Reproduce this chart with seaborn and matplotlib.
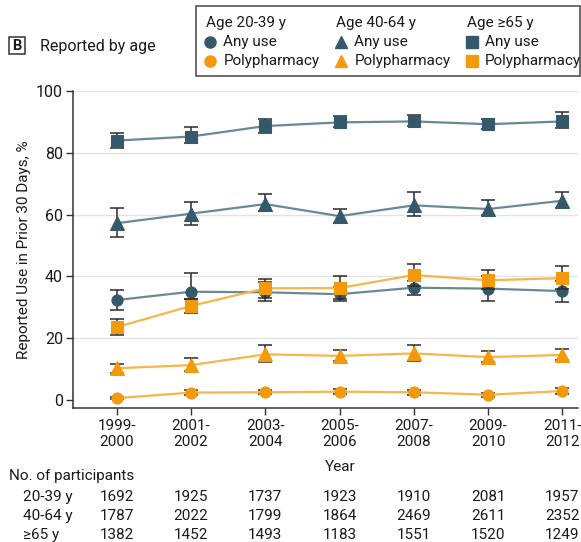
import matplotlib
matplotlib.use("Agg")
import matplotlib.pyplot as plt
import matplotlib.transforms as mtransforms
from matplotlib.patches import Rectangle
from matplotlib.lines import Line2D
import numpy as np
import pandas as pd
import seaborn as sns

sns.set_theme(style="white")
plt.rcParams["font.family"] = ["Roboto", "DejaVu Sans"]

periods = ["1999-\n2000", "2001-\n2002", "2003-\n2004", "2005-\n2006",
           "2007-\n2008", "2009-\n2010", "2011-\n2012"]

# Reported use (%) with 95% CI bounds
any_20_39 = [32.3, 35.0, 34.8, 34.2, 36.3, 36.0, 35.2]
any_20_39_lo = [29.1, 32.5, 32.0, 32.1, 34.0, 32.1, 31.8]
any_20_39_hi = [35.5, 41.1, 38.0, 36.5, 38.5, 40.0, 38.5]
poly_20_39 = [0.5, 2.3, 2.4, 2.6, 2.4, 1.6, 2.8]
poly_20_39_lo = [0.1, 1.6, 1.7, 1.8, 1.6, 1.0, 1.9]
poly_20_39_hi = [0.9, 3.0, 3.1, 3.4, 3.2, 2.2, 3.7]

any_40_64 = [57.2, 60.3, 63.4, 59.5, 63.0, 61.8, 64.5]
any_40_64_lo = [52.6, 56.5, 61.1, 57.4, 59.5, 59.9, 62.2]
any_40_64_hi = [62.2, 64.2, 66.7, 61.8, 67.2, 64.6, 67.2]
poly_40_64 = [10.2, 11.2, 14.7, 14.2, 15.0, 13.8, 14.5]
poly_40_64_lo = [8.8, 9.3, 12.1, 12.5, 12.5, 12.2, 12.8]
poly_40_64_hi = [11.7, 13.6, 17.8, 16.0, 17.8, 15.7, 16.4]

any_65 = [84.0, 85.3, 88.7, 89.9, 90.2, 89.3, 90.2]
any_65_lo = [81.7, 83.3, 86.5, 88.4, 88.6, 87.7, 88.0]
any_65_hi = [86.5, 88.3, 91.0, 92.0, 92.3, 90.9, 93.2]
poly_65 = [23.5, 30.4, 36.1, 36.2, 40.4, 38.7, 39.4]
poly_65_lo = [21.0, 28.0, 33.0, 32.5, 37.0, 36.0, 36.0]
poly_65_hi = [26.1, 32.5, 39.2, 40.2, 44.1, 42.0, 43.2]

# Number of participants per survey cycle
n_20_39 = [1692, 1925, 1737, 1923, 1910, 2081, 1957]
n_40_64 = [1787, 2022, 1799, 1864, 2469, 2611, 2352]
n_65 = [1382, 1452, 1493, 1183, 1551, 1520, 1249]

DARK = "#35596b"
DARK_LINE = "#6a8896"
ORANGE = "#f39a0c"
ORANGE_LINE = "#f7b54a"
ERR = "#2b2b2b"
TEXT = "#1a1a1a"
FS = 11

W, H = 581, 542
fig = plt.figure(figsize=(W / 100, H / 100), dpi=100)
ax = fig.add_axes([72.7 / W, (H - 407.7) / H, (578 - 72.7) / W, (407.7 - 91.2) / H])

x = np.arange(len(periods))

series = [
    (any_20_39, any_20_39_lo, any_20_39_hi, "o", DARK, DARK_LINE, 8),
    (any_40_64, any_40_64_lo, any_40_64_hi, "^", DARK, DARK_LINE, 9.5),
    (any_65, any_65_lo, any_65_hi, "s", DARK, DARK_LINE, 8),
    (poly_20_39, poly_20_39_lo, poly_20_39_hi, "o", ORANGE, ORANGE_LINE, 8),
    (poly_40_64, poly_40_64_lo, poly_40_64_hi, "^", ORANGE, ORANGE_LINE, 9.5),
    (poly_65, poly_65_lo, poly_65_hi, "s", ORANGE, ORANGE_LINE, 8),
]

for k, (vals, lo, hi, mk, col, lcol, ms) in enumerate(series):
    vals = np.asarray(vals)
    yerr = np.vstack([vals - np.asarray(lo), np.asarray(hi) - vals])
    ax.errorbar(x, vals, yerr=yerr, fmt="none", ecolor=ERR, elinewidth=1.1,
                capsize=4.7, capthick=1.1, zorder=2 + 2 * k)
    df = pd.DataFrame({"x": x, "y": vals})
    sns.lineplot(data=df, x="x", y="y", ax=ax, color=lcol, linewidth=1.6,
                 marker=mk, markersize=ms, markerfacecolor=col,
                 markeredgecolor=col, markeredgewidth=0.8, zorder=3 + 2 * k)

ax.set_xlim(-0.592, 6.21)
ax.set_ylim(-2.6, 100)
ax.set_yticks([0, 20, 40, 60, 80, 100])
ax.set_xticks(x)
ax.set_xticklabels(periods, fontsize=FS, color=TEXT, linespacing=1.2)
ax.tick_params(axis="y", labelsize=FS + 0.5, labelcolor=TEXT, length=5, width=1,
               color="#333333", direction="out", left=True, pad=2)
ax.tick_params(axis="x", length=5, width=1, color="#333333", direction="out",
               bottom=True, pad=3)
for yv in [20, 40, 60, 80, 100]:
    ax.axhline(yv, color="#e3e3e3", linewidth=1.0, zorder=0)
ax.grid(False)
for side in ["top", "right"]:
    ax.spines[side].set_visible(False)
for side in ["left", "bottom"]:
    ax.spines[side].set_color("#333333")
    ax.spines[side].set_linewidth(1.1)
ax.set_xlabel("")
ax.set_ylabel("Reported Use in Prior 30 Days, %", fontsize=FS, color=TEXT)
ax.yaxis.set_label_coords((31 - 72.7) / (578 - 72.7), 0.5)

# x-axis title
fig.text(340 / W, 1 - 467 / H, "Year", fontsize=FS, color=TEXT,
         ha="center", va="center")

# Participants table
fig.text(9 / W, 1 - 476 / H, "No. of participants", fontsize=FS,
         color=TEXT, ha="left", va="center")
trans = mtransforms.blended_transform_factory(ax.transData, fig.transFigure)
rows = [("20-39 y", n_20_39, 496.7), ("40-64 y", n_40_64, 515.7),
        ("\u226565 y", n_65, 535)]
for label, counts, ypx in rows:
    fig.text(23 / W, 1 - ypx / H, label, fontsize=FS, color=TEXT,
             ha="left", va="center")
    for xi, c in zip(x, counts):
        ax.text(xi, 1 - ypx / H, str(c), transform=trans, fontsize=FS,
                color=TEXT, ha="center", va="center", clip_on=False)

# Panel title
fig.patches.append(Rectangle((9 / W, 1 - 54.3 / H), 16 / W, 17 / H,
                             transform=fig.transFigure, fill=False,
                             edgecolor="#333333", linewidth=1.1))
fig.text(17 / W, 1 - 45.8 / H, "B", fontsize=10.5, fontweight="bold",
         color=TEXT, ha="center", va="center")
fig.text(40 / W, 1 - 46 / H, "Reported by age", fontsize=11.5,
         color=TEXT, ha="left", va="center")

# Legend box
fig.patches.append(Rectangle((195.5 / W, 1 - 76 / H), (580 - 195.5) / W,
                             70 / H, transform=fig.transFigure, fill=False,
                             edgecolor="#444444", linewidth=1.1))
columns = [("Age 20-39 y", "o", 205.7, 210, 223.3),
           ("Age 40-64 y", "^", 335.7, 341, 354.3),
           ("Age \u226565 y", "s", 466.7, 471.7, 485)]
for header, mk, hx, mx, tx in columns:
    fig.text(hx / W, 1 - 23.3 / H, header, fontsize=FS, color=TEXT,
             ha="left", va="center")
    for ypx, col, lab in [(42.3, DARK, "Any use"),
                          (61, ORANGE, "Polypharmacy")]:
        fig.lines.append(Line2D([mx / W], [1 - ypx / H], marker=mk,
                                markersize=8 if mk != "^" else 9,
                                color=col, linestyle="none",
                                transform=fig.transFigure))
        fig.text(tx / W, 1 - ypx / H, lab, fontsize=FS, color=TEXT,
                 ha="left", va="center")

fig.savefig("out.png", dpi=100)
